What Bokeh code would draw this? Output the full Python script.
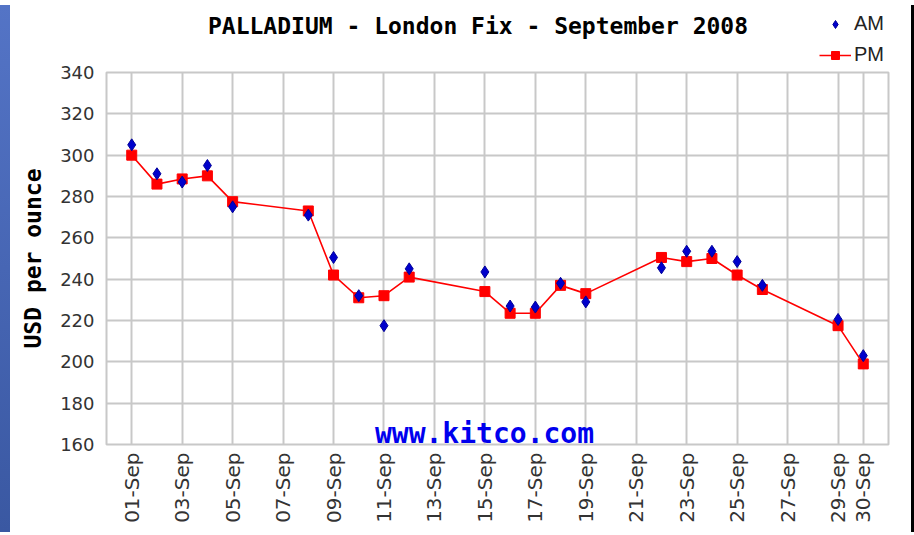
import math
from bokeh.plotting import figure
from bokeh.layouts import row, column
from bokeh.models import Range1d, FixedTicker, Label, Legend, LegendItem, Div
from bokeh.embed import file_html
from bokeh.resources import INLINE

# ---- data ----
days = [1, 2, 3, 4, 5, 8, 9, 10, 11, 12, 15, 16, 17, 18, 19, 22, 23, 24, 25, 26, 29, 30]
am = [305, 291, 287, 295, 275, 271, 250.5, 232, 217.5, 245, 243.5, 227, 226.5, 238, 229,
      245.5, 253.5, 253.5, 248.5, 237, 220.5, 203]
pm = [300, 286, 288.5, 290, 277.5, 273, 242, 231, 232, 241, 234, 223.5, 223.5, 237, 233,
      250.5, 248.5, 250, 242, 235, 217.5, 199]
tick_days = [1, 3, 5, 7, 9, 11, 13, 15, 17, 19, 21, 23, 25, 27, 29, 30]
tick_labels = ["01-Sep", "03-Sep", "05-Sep", "07-Sep", "09-Sep", "11-Sep", "13-Sep", "15-Sep",
               "17-Sep", "19-Sep", "21-Sep", "23-Sep", "25-Sep", "27-Sep", "29-Sep", "30-Sep"]
y_ticks = [160, 180, 200, 220, 240, 260, 280, 300, 320, 340]
title_text = "PALLADIUM - London Fix - September 2008"
y_label = "USD per ounce"
watermark = "www.kitco.com"
series_names = ["AM", "PM"]

RED = "#ff0000"
BLUE = "#0000cc"
BLUE_EDGE = "#000099"
GRID = "#c8c8c8"

PAGE_H = 527      # window height minus the page margin
STRIP_W = 13      # blue strip at the left edge
CW = 891          # chart width (between blue strip and right black rule)
RULE_W = 3        # black rule at the right
TOP_H = 64        # header (title + legend)
MAIN_H = PAGE_H - TOP_H
BL, BR = 91, 18   # left / right borders around the plot frame (shared by both figures)

# ---------------- header figure: title + legend ----------------
top = figure(width=CW, height=TOP_H, output_backend="svg", toolbar_location=None, title=None,
             x_range=Range1d(0, CW - BL - BR), y_range=Range1d(0, TOP_H),
             x_axis_type=None, y_axis_type=None,
             min_border_left=BL, min_border_right=BR, min_border_top=0, min_border_bottom=0)
top.grid.visible = False
top.outline_line_color = None
top.background_fill_color = "white"
top.border_fill_color = "white"

# legend samples: same series, but they fall outside this header's ranges (never visible here)
lg_am = top.scatter(days, am, marker="diamond", size=10, fill_color=BLUE, line_color=BLUE_EDGE)
lg_pm_line = top.line(days, pm, line_color=RED, line_width=1.6)
lg_pm_sq = top.scatter(days, pm, marker="square", size=10, fill_color=RED, line_color=RED)

legend = Legend(items=[LegendItem(label=series_names[0], renderers=[lg_am]),
                       LegendItem(label=series_names[1], renderers=[lg_pm_line, lg_pm_sq])],
                location=(713, -2), orientation="vertical",
                glyph_width=32, glyph_height=20, label_height=20, spacing=8,
                padding=0, margin=0, border_line_color=None, background_fill_alpha=0,
                label_text_font="Liberation Sans", label_text_font_size="20px",
                label_text_color="#222222", label_standoff=3)
top.add_layout(legend)

top.add_layout(Label(x=371.5, y=39, x_units="screen", y_units="screen", text=title_text,
                     text_align="center", text_baseline="middle",
                     text_font="DejaVu Sans Mono", text_font_style="bold",
                     text_font_size="23px", text_color="black"))

# ---------------- main figure ----------------
p = figure(width=CW, height=MAIN_H, output_backend="svg", toolbar_location=None, title=None,
           x_range=Range1d(0, 31), y_range=Range1d(160, 340),
           min_border_left=BL, min_border_right=BR, min_border_top=8, min_border_bottom=83)
p.background_fill_color = "white"
p.border_fill_color = "white"
p.outline_line_color = GRID
p.outline_line_width = 2

p.xaxis.ticker = FixedTicker(ticks=tick_days)
p.xaxis.major_label_overrides = {d: t for d, t in zip(tick_days, tick_labels)}
p.xaxis.major_label_orientation = math.pi / 2
p.yaxis.ticker = FixedTicker(ticks=y_ticks)
for ax in (p.xaxis, p.yaxis):
    ax.axis_line_color = None
    ax.major_tick_line_color = None
    ax.minor_tick_line_color = None
    ax.major_tick_out = 0
    ax.major_tick_in = 0
    ax.major_label_text_font = "DejaVu Sans"
    ax.major_label_text_font_size = "18px"
    ax.major_label_text_color = "#333333"
p.xaxis.major_label_standoff = 8
p.xaxis.major_label_text_font_size = "20px"
p.yaxis.major_label_standoff = 12

p.yaxis.axis_label = y_label
p.yaxis.axis_label_text_font = "DejaVu Sans Mono"
p.yaxis.axis_label_text_font_style = "bold"
p.yaxis.axis_label_text_font_size = "23px"
p.yaxis.axis_label_text_color = "black"
p.yaxis.axis_label_standoff = 11

p.xgrid.ticker = FixedTicker(ticks=tick_days)
p.ygrid.ticker = FixedTicker(ticks=y_ticks)
for g in (p.xgrid, p.ygrid):
    g.grid_line_color = GRID
    g.grid_line_width = 2

p.line(days, pm, line_color=RED, line_width=1.6)
p.scatter(days, pm, marker="square", size=10, fill_color=RED, line_color=RED)
p.scatter(days, am, marker="diamond", size=12, fill_color=BLUE, line_color=BLUE_EDGE)

p.add_layout(Label(x=378, y=11, x_units="screen", y_units="screen", text=watermark,
                   text_align="center", text_baseline="middle",
                   text_font="DejaVu Sans Mono", text_font_style="bold",
                   text_font_size="28px", text_color="#0000ee"))

# ---------------- page frame: blue strip at left, black rule at right ----------------
strip = Div(width=STRIP_W, height=PAGE_H, width_policy="fixed",
            styles={"background": "linear-gradient(to bottom, #5474c6, #3a58a2)",
                    "flex-shrink": "0", "min-width": f"{STRIP_W}px"})
rule = Div(width=RULE_W, height=PAGE_H, width_policy="fixed",
           styles={"background": "#000000", "flex-shrink": "0", "min-width": f"{RULE_W}px"})

# a negative left margin cancels the page's 8px left margin (horizontal only)
layout = row(strip, column(top, p, spacing=0), rule, spacing=0,
             styles={"margin-left": "-8px"})

open("out.html", "w").write(file_html(layout, INLINE))
